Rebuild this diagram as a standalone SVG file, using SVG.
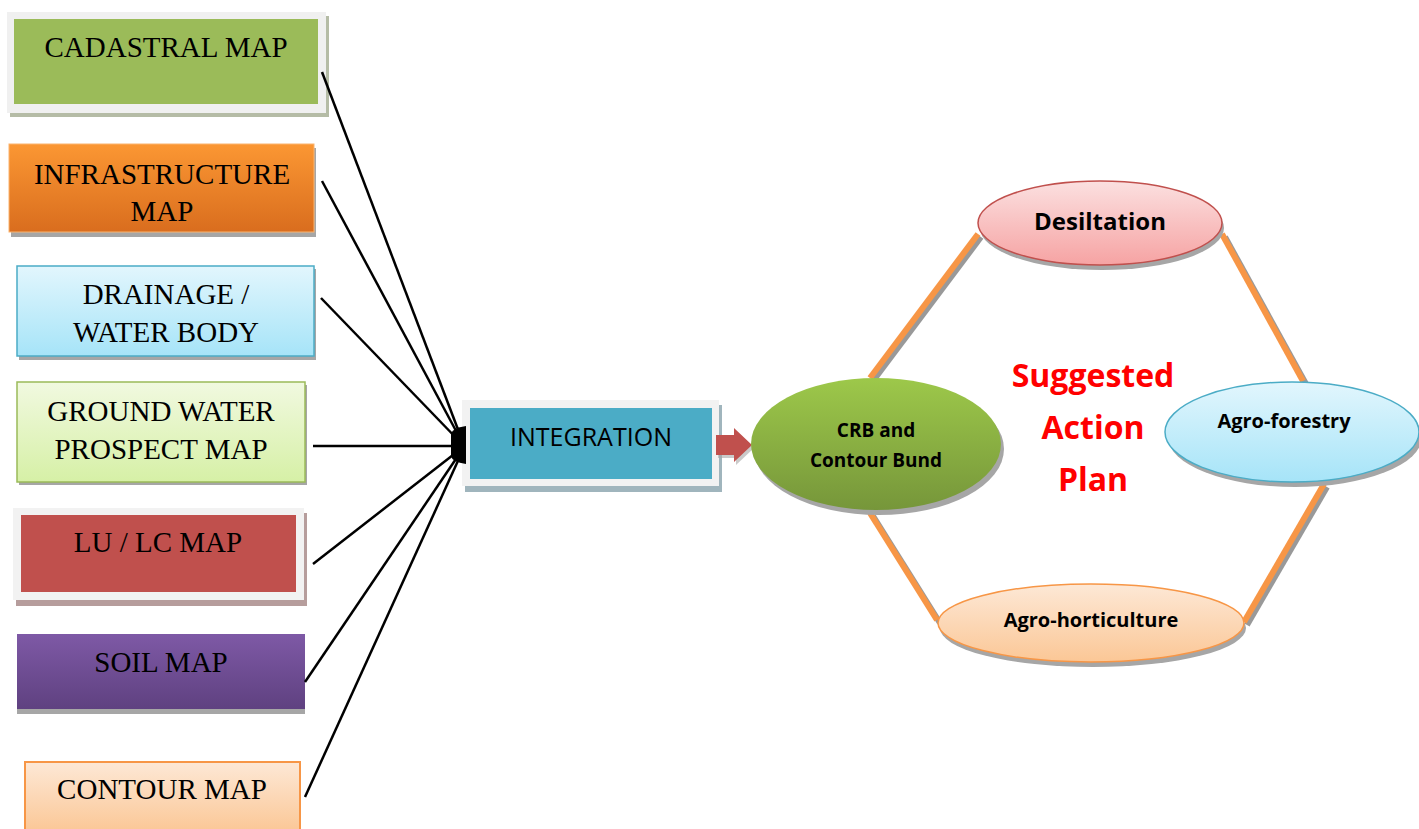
<svg xmlns="http://www.w3.org/2000/svg" width="1419" height="829" viewBox="0 0 1419 829">
<defs>
<linearGradient id="gOr" x1="0" y1="0" x2="0" y2="1"><stop offset="0" stop-color="#fb9733"/><stop offset="1" stop-color="#d96d1e"/></linearGradient>
<linearGradient id="gBl" x1="0" y1="0" x2="0" y2="1"><stop offset="0" stop-color="#e2f6fd"/><stop offset="1" stop-color="#a6e4f8"/></linearGradient>
<linearGradient id="gGr" x1="0" y1="0" x2="0" y2="1"><stop offset="0" stop-color="#f1f9e0"/><stop offset="1" stop-color="#d6f0a6"/></linearGradient>
<linearGradient id="gPu" x1="0" y1="0" x2="0" y2="1"><stop offset="0" stop-color="#7e59a6"/><stop offset="1" stop-color="#5f4180"/></linearGradient>
<linearGradient id="gPe" x1="0" y1="0" x2="0" y2="1"><stop offset="0" stop-color="#fde8d6"/><stop offset="1" stop-color="#fbc796"/></linearGradient>
<linearGradient id="gCrb" x1="0" y1="0" x2="0" y2="1"><stop offset="0" stop-color="#9dc84a"/><stop offset="1" stop-color="#76963a"/></linearGradient>
<linearGradient id="gDes" x1="0" y1="0" x2="0" y2="1"><stop offset="0" stop-color="#fbe0e0"/><stop offset="1" stop-color="#f6a3a3"/></linearGradient>
<linearGradient id="gAf" x1="0" y1="0" x2="0" y2="1"><stop offset="0" stop-color="#e2f6fd"/><stop offset="1" stop-color="#a6e4f8"/></linearGradient>
<linearGradient id="gAh" x1="0" y1="0" x2="0" y2="1"><stop offset="0" stop-color="#fde8d6"/><stop offset="1" stop-color="#fbc796"/></linearGradient>
</defs>
<style>
.t{font-family:"Liberation Serif","Times New Roman",serif;font-size:29px;fill:#000;text-anchor:middle}
.c{font-family:"Open Sans","Liberation Sans",sans-serif;text-anchor:middle;fill:#000}
.b{font-family:"Open Sans","Liberation Sans",sans-serif;font-weight:bold;text-anchor:middle;fill:#000}
.sh{fill:#a6a6a6}
.ln{stroke:#000;stroke-width:2.5;fill:none}
.or{stroke:#f79646;stroke-width:6;fill:none}
.ors{stroke:#999;stroke-width:6;fill:none}
.red{font-family:"Open Sans","Liberation Sans",sans-serif;font-weight:bold;font-size:32px;fill:#ff0000;text-anchor:middle}
</style>
<rect width="1419" height="829" fill="#fff"/>

<g id="cadastral">
<rect x="10" y="16" width="319" height="101" fill="#b5bca6"/>
<rect x="7" y="12" width="319" height="101" fill="#f0f0f0"/>
<rect x="14" y="19" width="304" height="85" fill="#9bbb59"/>
<text class="t" x="166" y="57">CADASTRAL MAP</text>
</g>

<g id="infrastructure">
<rect x="11" y="148" width="305" height="89" class="sh"/>
<rect x="9" y="144" width="305" height="88" fill="url(#gOr)" stroke="#fbb46e" stroke-width="1"/>
<text class="t" x="162" y="184">INFRASTRUCTURE</text>
<text class="t" x="162" y="221">MAP</text>
</g>

<g id="drainage">
<rect x="19" y="269" width="297" height="91" class="sh"/>
<rect x="17" y="266" width="297" height="90" fill="url(#gBl)" stroke="#4bacc6" stroke-width="1.5"/>
<text class="t" x="166" y="304">DRAINAGE /</text>
<text class="t" x="166" y="342">WATER BODY</text>
</g>

<g id="groundwater">
<rect x="19" y="385" width="288" height="100" class="sh"/>
<rect x="17" y="382" width="288" height="100" fill="url(#gGr)" stroke="#9bbb59" stroke-width="1.5"/>
<text class="t" x="161" y="421">GROUND WATER</text>
<text class="t" x="161" y="459">PROSPECT MAP</text>
</g>

<g id="lulc">
<rect x="16" y="513" width="291" height="93" fill="#b69d9c"/>
<rect x="13" y="508" width="291" height="92" fill="#f2f2f2"/>
<rect x="21" y="515" width="275" height="77" fill="#c0504d"/>
<text class="t" x="158" y="552">LU / LC MAP</text>
</g>

<g id="soil">
<rect x="17" y="638" width="288" height="76" class="sh"/>
<rect x="17" y="634" width="288" height="75" fill="url(#gPu)"/>
<text class="t" x="161" y="672">SOIL MAP</text>
</g>

<g id="contour">
<rect x="25" y="762" width="275" height="70" fill="url(#gPe)" stroke="#f79646" stroke-width="2"/>
<text class="t" x="162" y="799">CONTOUR MAP</text>
</g>

<g id="integration">
<rect x="465" y="405" width="257" height="87" fill="#a0b5bd"/>
<rect x="462" y="400" width="257" height="86" fill="#f2f2f2"/>
<rect x="470" y="408" width="242" height="71" fill="#4bacc6"/>
<text class="c" x="591" y="446" font-size="25">INTEGRATION</text>
</g>

<g id="connectors">
<line class="ln" x1="322" y1="72" x2="462" y2="440"/>
<line class="ln" x1="322" y1="181" x2="462" y2="442"/>
<line class="ln" x1="321" y1="298" x2="462" y2="444"/>
<line class="ln" x1="313" y1="446" x2="462" y2="446"/>
<line class="ln" x1="313" y1="564" x2="462" y2="448"/>
<line class="ln" x1="305" y1="682" x2="462" y2="450"/>
<line class="ln" x1="305" y1="797" x2="462" y2="452"/>
<path d="M451 434 Q452 428 466 426 L466 464 Q452 462 451 456 Z" fill="#000"/>
<line class="ors" x1="873" y1="381" x2="981" y2="237"/>
<line class="or" x1="870" y1="378" x2="978" y2="234"/>
<line class="ors" x1="1225" y1="237" x2="1306" y2="384"/>
<line class="or" x1="1222" y1="234" x2="1303" y2="381"/>
<line class="ors" x1="873" y1="516" x2="940" y2="623"/>
<line class="or" x1="870" y1="513" x2="937" y2="620"/>
<line class="ors" x1="1247" y1="625" x2="1327" y2="487"/>
<line class="or" x1="1244" y1="622" x2="1324" y2="484"/>
<path d="M718 438 L736 438 L736 431 L754 448 L736 465 L736 458 L718 458 Z" fill="#a6a6a6" opacity="0.6"/>
<path d="M716 435 L734 435 L734 428 L752 445 L734 462 L734 455 L716 455 Z" fill="#c0504d"/>
</g>

<g id="crb">
<ellipse cx="879" cy="449" rx="125" ry="66" fill="#a6a6a6"/>
<ellipse cx="876" cy="444" rx="125" ry="66" fill="url(#gCrb)"/>
<text class="b" x="876" y="437" font-size="19">CRB and</text>
<text class="b" x="876" y="467" font-size="19">Contour Bund</text>
</g>

<g id="desiltation">
<ellipse cx="1102" cy="228" rx="122" ry="42" fill="#a6a6a6"/>
<ellipse cx="1100" cy="223" rx="122" ry="42" fill="url(#gDes)" stroke="#c0504d" stroke-width="1.5"/>
<text class="b" x="1100" y="230" font-size="24">Desiltation</text>
</g>

<g id="agroforestry">
<ellipse cx="1295" cy="437" rx="127" ry="50" fill="#a6a6a6"/>
<ellipse cx="1292" cy="432" rx="127" ry="50" fill="url(#gAf)" stroke="#4bacc6" stroke-width="1.5"/>
<text class="b" x="1284" y="428" font-size="20">Agro-forestry</text>
</g>

<g id="agrohorticulture">
<ellipse cx="1093" cy="628" rx="153" ry="39" fill="#a6a6a6"/>
<ellipse cx="1091" cy="623" rx="153" ry="39" fill="url(#gAh)" stroke="#f79646" stroke-width="1.5"/>
<text class="b" x="1091" y="627" font-size="20">Agro-horticulture</text>
</g>

<g id="title">
<text class="red" x="1093" y="387">Suggested</text>
<text class="red" x="1093" y="439">Action</text>
<text class="red" x="1093" y="491">Plan</text>
</g>
</svg>
